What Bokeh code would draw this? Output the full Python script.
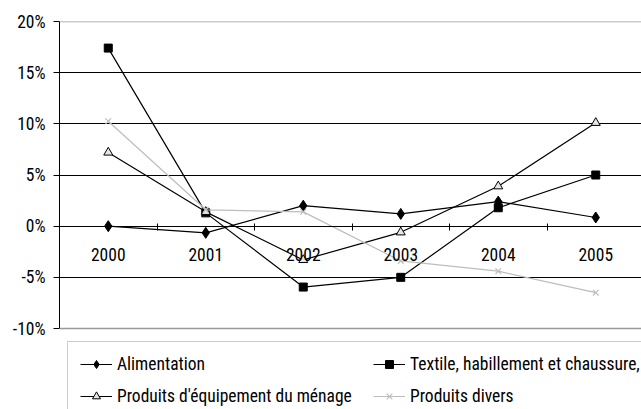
from bokeh.plotting import figure
from bokeh.models import (Range1d, FixedTicker, Legend, LegendItem, ColumnDataSource, Span)
from bokeh.embed import file_html
from bokeh.resources import INLINE

years = ["2000", "2001", "2002", "2003", "2004", "2005"]
alimentation = [0.0, -0.65, 2.0, 1.2, 2.4, 0.85]
textile = [17.4, 1.3, -5.95, -5.0, 1.8, 5.0]
equipement = [7.2, 1.4, -3.3, -0.6, 3.9, 10.1]
divers = [10.25, 1.6, 1.4, -3.4, -4.4, -6.5]
y_ticks = [-10, -5, 0, 5, 10, 15, 20]
y_labels = {t: f"{t}%" for t in y_ticks}

FONT = "'Roboto Condensed', 'DejaVu Sans Condensed', 'Liberation Sans Narrow', sans-serif"
FS = "17.5px"
xs = list(range(len(years)))

PX_PER_UNIT = 307 / 30.0   # vertical scale of the value axis
LEGEND_ROOM = 81           # px below the -10% line kept for the legend

p = figure(width=641, height=409, output_backend="svg", toolbar_location=None,
           x_range=Range1d(-0.5, -0.5 + 582 / 97.5),
           y_range=Range1d(y_ticks[0] - LEGEND_ROOM / PX_PER_UNIT, y_ticks[-1]),
           min_border_left=59, min_border_top=21, min_border_right=0, min_border_bottom=0)
p.outline_line_color = None
p.background_fill_color = "white"
p.border_fill_color = "white"

# grids
p.xgrid.visible = False
p.ygrid.ticker = FixedTicker(ticks=[t for t in y_ticks if t not in (y_ticks[0], y_ticks[-1])])
p.ygrid.grid_line_color = "black"
p.ygrid.grid_line_width = 1
for loc in (y_ticks[0], y_ticks[-1]):
    p.add_layout(Span(location=loc, dimension="width", line_color="#999999", line_width=1.5))

# y axis
ya = p.yaxis[0]
ya.bounds = (y_ticks[0], y_ticks[-1])
ya.ticker = FixedTicker(ticks=y_ticks)
ya.major_label_overrides = y_labels
ya.major_label_text_font = FONT
ya.major_label_text_font_size = FS
ya.major_label_text_color = "black"
ya.major_tick_out = 6
ya.major_tick_in = 0
ya.minor_tick_line_color = None
ya.axis_line_color = "black"
ya.major_tick_line_color = "black"
ya.major_label_standoff = 8

# x axis at 0
xa = p.xaxis[0]
xa.fixed_location = 0
xa.ticker = FixedTicker(ticks=xs, minor_ticks=[i + 0.5 for i in range(-1, len(years))])
xa.major_label_overrides = {i: y for i, y in enumerate(years)}
xa.major_label_text_font = FONT
xa.major_label_text_font_size = FS
xa.major_label_text_color = "black"
xa.major_tick_line_color = None
xa.minor_tick_in = 3
xa.minor_tick_out = 4
xa.minor_tick_line_color = "black"
xa.axis_line_color = "black"
xa.major_label_standoff = 16

src = ColumnDataSource(dict(x=xs, a=alimentation, t=textile, e=equipement, d=divers))

la = p.line("x", "a", source=src, line_color="black", line_width=1.2)
ma = p.scatter("x", "a", source=src, marker="diamond", size=11, fill_color="black", line_color="black")
lt = p.line("x", "t", source=src, line_color="black", line_width=1.2)
mt = p.scatter("x", "t", source=src, marker="square", size=8, fill_color="black", line_color="black")
le = p.line("x", "e", source=src, line_color="black", line_width=1.2)
me = p.scatter("x", "e", source=src, marker="triangle", size=9, fill_color="#e6e6e6", line_color="black")
ld = p.line("x", "d", source=src, line_color="#bdbdbd", line_width=1.2)
md = p.scatter("x", "d", source=src, marker="x", size=8, line_color="#bdbdbd", line_width=1.2)

legend = Legend(items=[
    LegendItem(label="Alimentation", renderers=[la, ma]),
    LegendItem(label="Textile, habillement et chaussure,", renderers=[lt, mt]),
    LegendItem(label="Produits d'équipement du ménage", renderers=[le, me]),
    LegendItem(label="Produits divers", renderers=[ld, md]),
], location=(8, -10), orientation="horizontal", ncols=2)
legend.label_text_font = FONT
legend.label_text_font_size = FS
legend.label_text_color = "black"
legend.glyph_width = 32
legend.glyph_height = 20
legend.label_height = 20
legend.label_standoff = 5
legend.label_width = 244
legend.padding = 12
legend.spacing = 12
legend.margin = 0
legend.border_line_color = "#999999"
legend.border_line_width = 1.5
legend.background_fill_color = "white"
legend.background_fill_alpha = 1
p.add_layout(legend, "center")

open("out.html", "w").write(file_html(p, INLINE))
